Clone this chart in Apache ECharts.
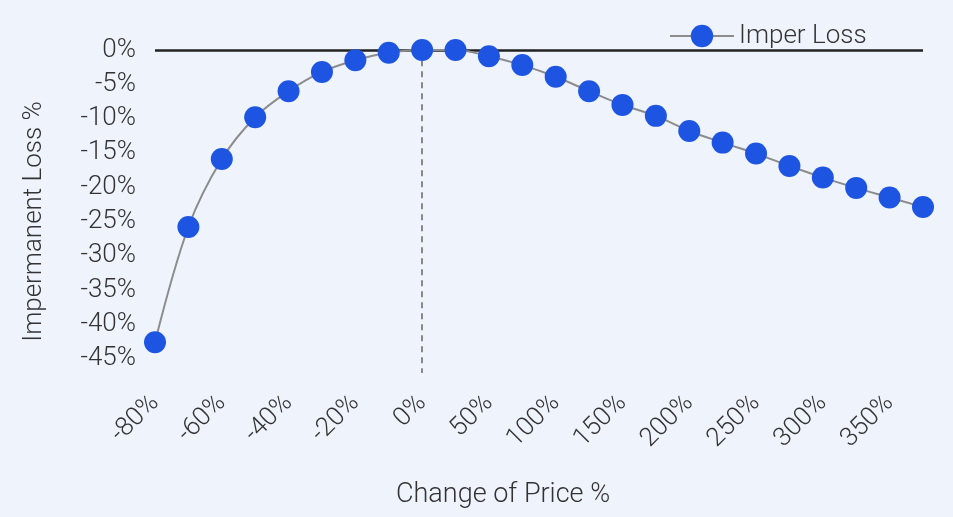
<!DOCTYPE html>
<html>
<head>
<meta charset="utf-8">
<script src="https://cdn.jsdelivr.net/npm/echarts@6/dist/echarts.min.js"></script>
<style>
html,body{margin:0;padding:0;background:#eef3fc;}
#chart{width:953px;height:517px;}
</style>
</head>
<body>
<div id="chart"></div>
<script>
const categories = ['-80%','-70%','-60%','-50%','-40%','-30%','-20%','-10%','0%','25%','50%','75%','100%','125%','150%','175%','200%','225%','250%','275%','300%','325%','350%','375%'];
const lossValues = [-42.6,-25.8,-15.9,-9.8,-6.0,-3.2,-1.5,-0.4,0,0,-0.9,-2.2,-3.9,-6.0,-8.0,-9.6,-11.8,-13.5,-15.1,-16.9,-18.6,-20.1,-21.5,-22.9];
const seriesName = 'Imper Loss';
const yMin = -50, yMax = 0, yStep = 5;
const dashedRefCategory = '0%';
const dashedRefEnd = -47.1;

const font = 'Roboto';
const textColor = '#333';
const chart = echarts.init(document.getElementById('chart'));
chart.setOption({
  backgroundColor: '#eef3fc',
  animation: false,
  title: {
    text: 'Change of Price %',
    left: 391, top: 477,
    textStyle: {fontFamily: font, fontWeight: 300, fontSize: 27, color: textColor}
  },
  legend: {
    data: [seriesName],
    left: 664, top: 18,
    itemWidth: 64, itemHeight: 28, itemGap: 10,
    textStyle: {fontFamily: font, fontWeight: 300, fontSize: 26, color: textColor}
  },
  grid: {left: 155, right: 30, top: 50, bottom: 124},
  xAxis: {
    type: 'category',
    data: categories,
    boundaryGap: false,
    axisLine: {show: false},
    axisTick: {show: false},
    splitLine: {show: false},
    axisLabel: {
      interval: 1, rotate: 45, margin: 6,
      fontFamily: font, fontWeight: 300, fontSize: 26, color: textColor
    }
  },
  yAxis: {
    type: 'value',
    min: yMin, max: yMax, interval: yStep,
    name: 'Impermanent Loss %',
    nameLocation: 'middle',
    nameGap: 108,
    nameTextStyle: {fontFamily: font, fontWeight: 300, fontSize: 26, color: textColor},
    axisLine: {show: false},
    axisTick: {show: false},
    splitLine: {show: false},
    axisLabel: {
      margin: 19,
      fontFamily: font, fontWeight: 300, fontSize: 26, color: textColor,
      formatter: v => v === yMin ? '' : v + '%'
    }
  },
  series: [
    {
      type: 'line',
      name: 'zero',
      data: [],
      z: 1,
      silent: true,
      markLine: {
        silent: true,
        symbol: 'none',
        label: {show: false},
        data: [
          [{coord: [categories[0], 0]}, {coord: [categories[categories.length - 1], 0]}]
        ],
        lineStyle: {color: '#222', width: 2.5, type: 'solid'}
      }
    },
    {
      type: 'line',
      name: 'dash',
      data: [],
      z: 1,
      silent: true,
      markLine: {
        silent: true,
        symbol: 'none',
        label: {show: false},
        data: [
          [{coord: [dashedRefCategory, -1.5]}, {coord: [dashedRefCategory, dashedRefEnd]}]
        ],
        lineStyle: {color: '#666', width: 1.5, type: [6, 5]}
      }
    },
    {
      type: 'line',
      name: seriesName,
      data: lossValues,
      z: 5,
      smooth: 0.35,
      symbol: 'circle',
      symbolSize: 22,
      showSymbol: true,
      showAllSymbol: true,
      lineStyle: {color: '#8c8c8c', width: 2},
      itemStyle: {color: '#1d55e2'}
    }
  ]
});
</script>
</body>
</html>
